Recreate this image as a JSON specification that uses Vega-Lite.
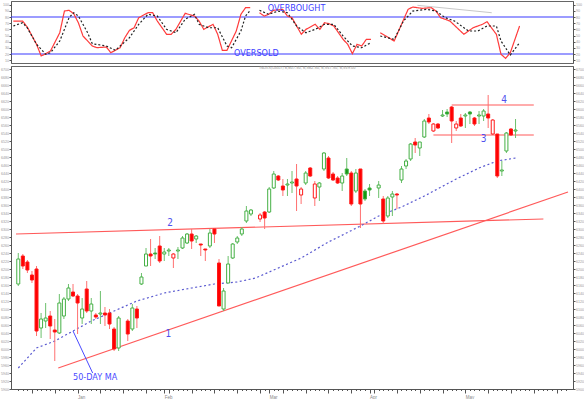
{
"$schema": "https://vega.github.io/schema/vega-lite/v6.json",
"padding": 0,
"background": "white",
"bounds": "flush",
"spacing": 3,
"config": {"view": {"stroke": "#666666", "strokeWidth": 1}, "axis": {"labelFont": "Liberation Sans", "labelFontSize": 3.6, "labelColor": "#999999", "tickColor": "#555555", "domainColor": "#555555", "grid": false, "title": null, "labelPadding": 0.5, "tickSize": 2}},
"datasets": {
"candles": [
{"d":0,"o":6162.5,"h":6240,"l":6157.5,"c":6225,"col":"up"},
{"d":1,"o":6232.5,"h":6237.5,"l":6200,"c":6207.5,"col":"down"},
{"d":2,"o":6217.5,"h":6222.5,"l":6190,"c":6197.5,"col":"down"},
{"d":3,"o":6185,"h":6195,"l":6165,"c":6172.5,"col":"down"},
{"d":4,"o":6200,"h":6207.5,"l":6032.5,"c":6045,"col":"down"},
{"d":5,"o":6052.5,"h":6090,"l":6027.5,"c":6075,"col":"up"},
{"d":6,"o":6070,"h":6115,"l":6052.5,"c":6077.5,"col":"up"},
{"d":7,"o":6082.5,"h":6095,"l":6025,"c":6057.5,"col":"down"},
{"d":8,"o":6047.5,"h":6075,"l":5970,"c":6042.5,"col":"down"},
{"d":9,"o":6040,"h":6137.5,"l":6037.5,"c":6115,"col":"up"},
{"d":10,"o":6082.5,"h":6130,"l":6075,"c":6125,"col":"up"},
{"d":11,"o":6125,"h":6162.5,"l":6120,"c":6152.5,"col":"up"},
{"d":12,"o":6142.5,"h":6162.5,"l":6130,"c":6132.5,"col":"down"},
{"d":13,"o":6132.5,"h":6137.5,"l":6037.5,"c":6115,"col":"down"},
{"d":14,"o":6077.5,"h":6127.5,"l":6062.5,"c":6100,"col":"up"},
{"d":15,"o":6150,"h":6170,"l":6090,"c":6095,"col":"down"},
{"d":16,"o":6095,"h":6127.5,"l":6062.5,"c":6112.5,"col":"up"},
{"d":17,"o":6085,"h":6090,"l":6075,"c":6080,"col":"down"},
{"d":18,"o":6087.5,"h":6145,"l":6062.5,"c":6090,"col":"up"},
{"d":19,"o":6090,"h":6105,"l":6057.5,"c":6085,"col":"down"},
{"d":20,"o":6090,"h":6100,"l":6050,"c":6062.5,"col":"down"},
{"d":21,"o":6050,"h":6055,"l":5995,"c":6000,"col":"down"},
{"d":22,"o":6002.5,"h":6082.5,"l":5995,"c":6077.5,"col":"up"},
{"d":24,"o":6070,"h":6075,"l":6020,"c":6037.5,"col":"down"},
{"d":25,"o":6050,"h":6112.5,"l":6045,"c":6102.5,"col":"up"},
{"d":26,"o":6100,"h":6107.5,"l":6052.5,"c":6077.5,"col":"down"},
{"d":27,"o":6162.5,"h":6190,"l":6160,"c":6180,"col":"up"},
{"d":28,"o":6207.5,"h":6252.5,"l":6207.5,"c":6237.5,"col":"up"},
{"d":29,"o":6237.5,"h":6275,"l":6207.5,"c":6232.5,"col":"down"},
{"d":30,"o":6240,"h":6252.5,"l":6225,"c":6237.5,"col":"up"},
{"d":31,"o":6257.5,"h":6282.5,"l":6215,"c":6220,"col":"down"},
{"d":32,"o":6237.5,"h":6252.5,"l":6220,"c":6242.5,"col":"up"},
{"d":33,"o":6245,"h":6252.5,"l":6232.5,"c":6247.5,"col":"up"},
{"d":34,"o":6227.5,"h":6240,"l":6202.5,"c":6237.5,"col":"down"},
{"d":35,"o":6245,"h":6255,"l":6225,"c":6247.5,"col":"up"},
{"d":36,"o":6252.5,"h":6282.5,"l":6250,"c":6277.5,"col":"up"},
{"d":37,"o":6265,"h":6290,"l":6262.5,"c":6287.5,"col":"up"},
{"d":38,"o":6287.5,"h":6300,"l":6250,"c":6270,"col":"down"},
{"d":39,"o":6275,"h":6285,"l":6265,"c":6282.5,"col":"up"},
{"d":40,"o":6262.5,"h":6262.5,"l":6232.5,"c":6260,"col":"down"},
{"d":41,"o":6250,"h":6250,"l":6220,"c":6247.5,"col":"down"},
{"d":42,"o":6257.5,"h":6300,"l":6252.5,"c":6290,"col":"up"},
{"d":43,"o":6300,"h":6302.5,"l":6265,"c":6287.5,"col":"down"},
{"d":44,"o":6215,"h":6225,"l":6107.5,"c":6107.5,"col":"down"},
{"d":45,"o":6100,"h":6152.5,"l":6095,"c":6145,"col":"up"},
{"d":46,"o":6165,"h":6232.5,"l":6165,"c":6212.5,"col":"up"},
{"d":47,"o":6227.5,"h":6265,"l":6225,"c":6262.5,"col":"up"},
{"d":48,"o":6267.5,"h":6282.5,"l":6262.5,"c":6277.5,"col":"up"},
{"d":49,"o":6287.5,"h":6305,"l":6282.5,"c":6300,"col":"up"},
{"d":50,"o":6320,"h":6357.5,"l":6315,"c":6345,"col":"up"},
{"d":51,"o":6337.5,"h":6350,"l":6332.5,"c":6347.5,"col":"up"},
{"d":53,"o":6325,"h":6340,"l":6317.5,"c":6335,"col":"down"},
{"d":54,"o":6342.5,"h":6345,"l":6300,"c":6327.5,"col":"down"},
{"d":55,"o":6342.5,"h":6405,"l":6340,"c":6400,"col":"up"},
{"d":56,"o":6402.5,"h":6445,"l":6400,"c":6437.5,"col":"up"},
{"d":57,"o":6432.5,"h":6435,"l":6420,"c":6422.5,"col":"down"},
{"d":58,"o":6407.5,"h":6425,"l":6382.5,"c":6397.5,"col":"down"},
{"d":59,"o":6410,"h":6425,"l":6382.5,"c":6412.5,"col":"up"},
{"d":60,"o":6415,"h":6445,"l":6390,"c":6417.5,"col":"up"},
{"d":61,"o":6425,"h":6462.5,"l":6345,"c":6407.5,"col":"down"},
{"d":62,"o":6385,"h":6405,"l":6362.5,"c":6400,"col":"down"},
{"d":63,"o":6415,"h":6445,"l":6410,"c":6440,"col":"up"},
{"d":64,"o":6452.5,"h":6455,"l":6430,"c":6432.5,"col":"down"},
{"d":65,"o":6377.5,"h":6420,"l":6357.5,"c":6412.5,"col":"down"},
{"d":66,"o":6405,"h":6417.5,"l":6370,"c":6415,"col":"up"},
{"d":67,"o":6450,"h":6492.5,"l":6445,"c":6490,"col":"up"},
{"d":68,"o":6477.5,"h":6482.5,"l":6425,"c":6427.5,"col":"down"},
{"d":69,"o":6437.5,"h":6442.5,"l":6420,"c":6422.5,"col":"down"},
{"d":70,"o":6427.5,"h":6432.5,"l":6412.5,"c":6415,"col":"down"},
{"d":71,"o":6415,"h":6440,"l":6395,"c":6432.5,"col":"up"},
{"d":72,"o":6450,"h":6477.5,"l":6432.5,"c":6437.5,"col":"up"},
{"d":73,"o":6440,"h":6445,"l":6357.5,"c":6362.5,"col":"down"},
{"d":74,"o":6395,"h":6450,"l":6390,"c":6440,"col":"up"},
{"d":75,"o":6450,"h":6450,"l":6302.5,"c":6362.5,"col":"down"},
{"d":76,"o":6395,"h":6400,"l":6370,"c":6375,"col":"up"},
{"d":77,"o":6402.5,"h":6412.5,"l":6382.5,"c":6397.5,"col":"up"},
{"d":79,"o":6402.5,"h":6420,"l":6377.5,"c":6410,"col":"up"},
{"d":80,"o":6375,"h":6382.5,"l":6312.5,"c":6320,"col":"down"},
{"d":81,"o":6332.5,"h":6382.5,"l":6327.5,"c":6377.5,"col":"up"},
{"d":82,"o":6380,"h":6395,"l":6332.5,"c":6387.5,"col":"up"},
{"d":83,"o":6387.5,"h":6390,"l":6350,"c":6385,"col":"down"},
{"d":84,"o":6422.5,"h":6457.5,"l":6415,"c":6450,"col":"up"},
{"d":85,"o":6457.5,"h":6475,"l":6450,"c":6470,"col":"up"},
{"d":86,"o":6475,"h":6515,"l":6470,"c":6512.5,"col":"up"},
{"d":87,"o":6517.5,"h":6527.5,"l":6490,"c":6510,"col":"down"},
{"d":88,"o":6502.5,"h":6517.5,"l":6482.5,"c":6517.5,"col":"up"},
{"d":89,"o":6530,"h":6575,"l":6527.5,"c":6570,"col":"up"},
{"d":90,"o":6577.5,"h":6587.5,"l":6562.5,"c":6567.5,"col":"down"},
{"d":91,"o":6545,"h":6565,"l":6542.5,"c":6562.5,"col":"down"},
{"d":92,"o":6562.5,"h":6565,"l":6550,"c":6552.5,"col":"down"},
{"d":93,"o":6582.5,"h":6597.5,"l":6580,"c":6585,"col":"up"},
{"d":94,"o":6592.5,"h":6600,"l":6580,"c":6587.5,"col":"up"},
{"d":95,"o":6605,"h":6607.5,"l":6515,"c":6570,"col":"down"},
{"d":96,"o":6552.5,"h":6570,"l":6545,"c":6562.5,"col":"down"},
{"d":97,"o":6577.5,"h":6587.5,"l":6555,"c":6557.5,"col":"down"},
{"d":98,"o":6582.5,"h":6590,"l":6552.5,"c":6585,"col":"up"},
{"d":99,"o":6592.5,"h":6595,"l":6562.5,"c":6587.5,"col":"up"},
{"d":100,"o":6577.5,"h":6580,"l":6557.5,"c":6562.5,"col":"down"},
{"d":101,"o":6582.5,"h":6595,"l":6562.5,"c":6585,"col":"up"},
{"d":102,"o":6582.5,"h":6600,"l":6570,"c":6595,"col":"up"},
{"d":103,"o":6587.5,"h":6635,"l":6552.5,"c":6577.5,"col":"down"},
{"d":104,"o":6537.5,"h":6575,"l":6535,"c":6572.5,"col":"down"},
{"d":105,"o":6537.5,"h":6537.5,"l":6427.5,"c":6432.5,"col":"down"},
{"d":106,"o":6445,"h":6470,"l":6432.5,"c":6447.5,"col":"up"},
{"d":107,"o":6495,"h":6542.5,"l":6490,"c":6540,"col":"up"},
{"d":108,"o":6550,"h":6552.5,"l":6532.5,"c":6535,"col":"down"},
{"d":109,"o":6545,"h":6575,"l":6527.5,"c":6547.5,"col":"up"}
],
"ma": [
{"d":0,"ma":5952.5},{"d":4,"ma":6002.5},{"d":8,"ma":6020},{"d":12,"ma":6045},{"d":16,"ma":6070},{"d":20,"ma":6090},{"d":26,"ma":6120},{"d":32,"ma":6140},{"d":38,"ma":6152.5},{"d":43,"ma":6162.5},{"d":48,"ma":6167.5},{"d":52,"ma":6177.5},{"d":59,"ma":6212.5},{"d":62,"ma":6227.5},{"d":68,"ma":6267.5},{"d":75,"ma":6307.5},{"d":79,"ma":6332.5},{"d":84,"ma":6355},{"d":89,"ma":6382.5},{"d":96,"ma":6425},{"d":101,"ma":6452.5},{"d":105,"ma":6470},{"d":109,"ma":6477.5}
],
"stoch": [
{"s":"K","seg":1,"d":0,"v":73.5},{"s":"K","seg":1,"d":2,"v":73.5},{"s":"K","seg":1,"d":3,"v":63.8},{"s":"K","seg":1,"d":5,"v":35.7},{"s":"K","seg":1,"d":6,"v":16.8},{"s":"K","seg":1,"d":7,"v":20.5},{"s":"K","seg":1,"d":8,"v":24.9},{"s":"K","seg":1,"d":10,"v":54.5},{"s":"K","seg":1,"d":11,"v":89.7},{"s":"K","seg":1,"d":12,"v":90.9},{"s":"K","seg":1,"d":13,"v":85.4},{"s":"K","seg":1,"d":14,"v":70.8},{"s":"K","seg":1,"d":15,"v":49.2},{"s":"K","seg":1,"d":17,"v":33},{"s":"K","seg":1,"d":18,"v":30.2},{"s":"K","seg":1,"d":20,"v":31.4},{"s":"K","seg":1,"d":21,"v":22.1},{"s":"K","seg":1,"d":23,"v":30.2},{"s":"K","seg":1,"d":24,"v":46.4},{"s":"K","seg":1,"d":25,"v":58.4},{"s":"K","seg":1,"d":26,"v":62.6},{"s":"K","seg":1,"d":27,"v":78.9},{"s":"K","seg":1,"d":29,"v":87},{"s":"K","seg":1,"d":30,"v":87},{"s":"K","seg":1,"d":31,"v":73.5},{"s":"K","seg":1,"d":33,"v":52},{"s":"K","seg":1,"d":34,"v":52},{"s":"K","seg":1,"d":35,"v":60},{"s":"K","seg":1,"d":37,"v":86},{"s":"K","seg":1,"d":39,"v":81.6},{"s":"K","seg":1,"d":40,"v":73.5},{"s":"K","seg":1,"d":41,"v":60},{"s":"K","seg":1,"d":43,"v":68.2},{"s":"K","seg":1,"d":44,"v":52},{"s":"K","seg":1,"d":45,"v":26},{"s":"K","seg":1,"d":46,"v":26},{"s":"K","seg":1,"d":48,"v":57.3},{"s":"K","seg":1,"d":49,"v":84.4},{"s":"K","seg":1,"d":50,"v":95.1},{"s":"K","seg":1,"d":51,"v":95.1},
{"s":"K","seg":2,"d":53,"v":87},{"s":"K","seg":2,"d":54,"v":81.6},{"s":"K","seg":2,"d":55,"v":84.4},{"s":"K","seg":2,"d":56,"v":90.9},{"s":"K","seg":2,"d":58,"v":92.5},{"s":"K","seg":2,"d":59,"v":81.6},{"s":"K","seg":2,"d":60,"v":78.9},{"s":"K","seg":2,"d":62,"v":52},{"s":"K","seg":2,"d":63,"v":60},{"s":"K","seg":2,"d":65,"v":68.2},{"s":"K","seg":2,"d":66,"v":60},{"s":"K","seg":2,"d":67,"v":70.8},{"s":"K","seg":2,"d":68,"v":69.1},{"s":"K","seg":2,"d":69,"v":65.4},{"s":"K","seg":2,"d":71,"v":43.8},{"s":"K","seg":2,"d":72,"v":35.7},{"s":"K","seg":2,"d":73,"v":20.5},{"s":"K","seg":2,"d":74,"v":35.7},{"s":"K","seg":2,"d":75,"v":33},{"s":"K","seg":2,"d":76,"v":43.8},{"s":"K","seg":2,"d":77,"v":43.8},
{"s":"K","seg":3,"d":79,"v":54.5},{"s":"K","seg":3,"d":82,"v":41.1},{"s":"K","seg":3,"d":85,"v":92.5},{"s":"K","seg":3,"d":86,"v":96.2},{"s":"K","seg":3,"d":88,"v":94.1},{"s":"K","seg":3,"d":90,"v":95.1},{"s":"K","seg":3,"d":91,"v":89.7},{"s":"K","seg":3,"d":92,"v":78.9},{"s":"K","seg":3,"d":94,"v":73.5},{"s":"K","seg":3,"d":97,"v":52},{"s":"K","seg":3,"d":99,"v":62.6},{"s":"K","seg":3,"d":101,"v":68.2},{"s":"K","seg":3,"d":102,"v":72.4},{"s":"K","seg":3,"d":103,"v":62},{"s":"K","seg":3,"d":104,"v":52},{"s":"K","seg":3,"d":105,"v":19.5},{"s":"K","seg":3,"d":106,"v":13},{"s":"K","seg":3,"d":107,"v":22.1},{"s":"K","seg":3,"d":109,"v":65.4},
{"s":"D","seg":1,"d":0,"v":65.4},{"s":"D","seg":1,"d":2,"v":70.8},{"s":"D","seg":1,"d":3,"v":62.6},{"s":"D","seg":1,"d":5,"v":35.7},{"s":"D","seg":1,"d":7,"v":19.5},{"s":"D","seg":1,"d":8,"v":22.1},{"s":"D","seg":1,"d":10,"v":41.1},{"s":"D","seg":1,"d":12,"v":78.9},{"s":"D","seg":1,"d":13,"v":87},{"s":"D","seg":1,"d":14,"v":81.6},{"s":"D","seg":1,"d":16,"v":54.5},{"s":"D","seg":1,"d":17,"v":36.7},{"s":"D","seg":1,"d":20,"v":33},{"s":"D","seg":1,"d":22,"v":26},{"s":"D","seg":1,"d":23,"v":33},{"s":"D","seg":1,"d":25,"v":46.4},{"s":"D","seg":1,"d":27,"v":68.2},{"s":"D","seg":1,"d":29,"v":84.4},{"s":"D","seg":1,"d":31,"v":81.6},{"s":"D","seg":1,"d":33,"v":60},{"s":"D","seg":1,"d":35,"v":54.5},{"s":"D","seg":1,"d":37,"v":76.3},{"s":"D","seg":1,"d":39,"v":84.4},{"s":"D","seg":1,"d":40,"v":68.2},{"s":"D","seg":1,"d":42,"v":62.6},{"s":"D","seg":1,"d":44,"v":62.6},{"s":"D","seg":1,"d":46,"v":33},{"s":"D","seg":1,"d":47,"v":30.2},{"s":"D","seg":1,"d":49,"v":57.3},{"s":"D","seg":1,"d":50,"v":81.6},{"s":"D","seg":1,"d":51,"v":90.9},
{"s":"D","seg":2,"d":53,"v":90.9},{"s":"D","seg":2,"d":55,"v":84.4},{"s":"D","seg":2,"d":57,"v":89.7},{"s":"D","seg":2,"d":59,"v":87},{"s":"D","seg":2,"d":61,"v":65.4},{"s":"D","seg":2,"d":63,"v":54.5},{"s":"D","seg":2,"d":65,"v":60},{"s":"D","seg":2,"d":67,"v":68.2},{"s":"D","seg":2,"d":69,"v":68.2},{"s":"D","seg":2,"d":71,"v":49.2},{"s":"D","seg":2,"d":73,"v":33},{"s":"D","seg":2,"d":75,"v":30.2},{"s":"D","seg":2,"d":77,"v":38.3},
{"s":"D","seg":3,"d":79,"v":49.2},{"s":"D","seg":3,"d":82,"v":43.8},{"s":"D","seg":3,"d":84,"v":73.5},{"s":"D","seg":3,"d":86,"v":89.7},{"s":"D","seg":3,"d":89,"v":92.5},{"s":"D","seg":3,"d":91,"v":89.7},{"s":"D","seg":3,"d":93,"v":78.9},{"s":"D","seg":3,"d":95,"v":73.5},{"s":"D","seg":3,"d":98,"v":57.3},{"s":"D","seg":3,"d":100,"v":57.3},{"s":"D","seg":3,"d":102,"v":65.4},{"s":"D","seg":3,"d":104,"v":65.4},{"s":"D","seg":3,"d":105,"v":41.1},{"s":"D","seg":3,"d":107,"v":18.4},{"s":"D","seg":3,"d":109,"v":38.3}
],
"trend": [
{"id":"1","d":8.76,"p":5952.5,"d2":120.5,"p2":6392.5},
{"id":"2","d":-0.5,"p":6287.5,"d2":115.1,"p2":6325},
{"id":"3","d":91,"p":6535,"d2":113,"p2":6535},
{"id":"4","d":95,"p":6610,"d2":113,"p2":6610}
],
"tlabels": [
{"d":32.9,"p":6037.5,"t":"1"},
{"d":33.3,"p":6314,"t":"2"},
{"d":102,"p":6525,"t":"3"},
{"d":106.5,"p":6622,"t":"4"}
]
},
"vconcat": [
{
"width": 562,
"height": 62,
"encoding": {"x": {"field": "d", "type": "quantitative", "scale": {"domain": [-0.5, 120.5], "nice": false, "zero": false}, "axis": null}},
"layer": [
{"data": {"values": [{"v": 80}, {"v": 20}]},
 "mark": {"type": "rule", "color": "#3b3bff", "strokeWidth": 1.2},
 "encoding": {"x": null, "y": {"field": "v", "type": "quantitative", "scale": {"domain": [5.4, 106], "nice": false, "zero": false}, "axis": {"orient": "left", "values": [10,20,30,40,50,60,70,80,90,100], "format": "d"}}}},
{"data": {"values": [{"d": 87, "v": 99}, {"d": 103, "v": 87}]},
 "mark": {"type": "line", "color": "#c8c8c8", "strokeWidth": 1},
 "encoding": {"y": {"field": "v", "type": "quantitative", "scale": {"domain": [5.4, 106], "nice": false, "zero": false}, "axis": {"orient": "right", "values": [10,20,30,40,50,60,70,80,90,100], "format": "d"}}}},
{"data": {"name": "stoch"},
 "mark": {"type": "line", "strokeWidth": 1.2},
 "encoding": {
  "y": {"field": "v", "type": "quantitative", "scale": {"domain": [5.4, 106], "nice": false, "zero": false}, "axis": null},
  "color": {"field": "s", "type": "nominal", "scale": {"domain": ["K", "D"], "range": ["#ff3b3b", "#222222"]}, "legend": null},
  "strokeDash": {"field": "s", "type": "nominal", "scale": {"domain": ["K", "D"], "range": [[1, 0], [2, 2]]}, "legend": null},
  "detail": {"field": "seg", "type": "nominal"},
  "order": {"field": "d", "type": "quantitative"}}},
{"data": {"values": [{"d": 54.8, "v": 95.4, "t": "OVERBOUGHT"}, {"d": 47.5, "v": 22.4, "t": "OVERSOLD"}]},
 "mark": {"type": "text", "align": "left", "baseline": "middle", "color": "#4040ff", "font": "Liberation Sans Narrow, DejaVu Sans Condensed, Liberation Sans", "fontSize": 9},
 "encoding": {"y": {"field": "v", "type": "quantitative", "scale": {"domain": [5.4, 106], "nice": false, "zero": false}, "axis": null}, "text": {"field": "t"}}}
],
"resolve": {"axis": {"y": "independent"}}
},
{
"width": 562,
"height": 323,
"encoding": {"x": {"field": "d", "type": "quantitative", "scale": {"domain": [-0.5, 120.5], "nice": false, "zero": false},
  "axis": {"orient": "bottom", "values": [0,1,2,3,4,5,6,7,8,9,10,11,12,13,14,15,16,17,18,19,20,21,22,23,24,25,26,27,28,29,30,31,32,33,34,35,36,37,38,39,40,41,42,43,44,45,46,47,48,49,50,51,52,53,54,55,56,57,58,59,60,61,62,63,64,65,66,67,68,69,70,71,72,73,74,75,76,77,78,79,80,81,82,83,84,85,86,87,88,89,90,91,92,93,94,95,96,97,98,99,100,101,102,103,104,105,106,107,108,109,110,111,112,113,114,115,116,117,118,119,120],
   "labelExpr": "datum.value==13?'Jan':datum.value==32?'Feb':datum.value==55?'Mar':datum.value==77?'Apr':datum.value==98?'May':''",
   "labelOverlap": false, "labelAlign": "left", "labelFontSize": 4.5, "labelColor": "#888888", "labelPadding": 1,
   "tickSize": {"condition": {"test": "datum.value % 5 == 3 || indexof([13,32,55,77,98], datum.value) >= 0", "value": 4}, "value": 1.5}}}},
"layer": [
{"data": {"name": "trend"},
 "mark": {"type": "rule", "color": "#ff5a5a", "strokeWidth": 1.2},
 "encoding": {"x2": {"field": "d2"}, "y": {"field": "p", "type": "quantitative", "scale": {"domain": [5900, 6707.5], "nice": false, "zero": false}, "axis": null}, "y2": {"field": "p2"}}},
{"data": {"name": "ma"},
 "mark": {"type": "line", "color": "#5a5ad0", "strokeWidth": 1.2, "strokeDash": [2, 2.5]},
 "encoding": {"y": {"field": "ma", "type": "quantitative", "scale": {"domain": [5900, 6707.5], "nice": false, "zero": false}, "axis": null}}},
{"data": {"values": [{"d": 12, "p": 6045, "d2": 16.3, "p2": 5940}]},
 "mark": {"type": "rule", "color": "#4a4aff", "strokeWidth": 1},
 "encoding": {"x2": {"field": "d2"}, "y": {"field": "p", "type": "quantitative", "scale": {"domain": [5900, 6707.5], "nice": false, "zero": false}, "axis": null}, "y2": {"field": "p2"}}},
{"data": {"name": "candles"},
 "mark": {"type": "rule", "strokeWidth": 1},
 "encoding": {
  "y": {"field": "l", "type": "quantitative", "scale": {"domain": [5900, 6707.5], "nice": false, "zero": false}, "axis": {"orient": "left", "values": [5900,5920,5940,5960,5980,6000,6020,6040,6060,6080,6100,6120,6140,6160,6180,6200,6220,6240,6260,6280,6300,6320,6340,6360,6380,6400,6420,6440,6460,6480,6500,6520,6540,6560,6580,6600,6620,6640,6660,6680,6700], "format": "d"}},
  "y2": {"field": "h"},
  "color": {"field": "col", "type": "nominal", "scale": {"domain": ["up", "down"], "range": ["#6cc06c", "#ff7070"]}, "legend": null}}},
{"data": {"name": "candles"},
 "mark": {"type": "bar", "size": 3, "strokeWidth": 1},
 "encoding": {
  "y": {"field": "o", "type": "quantitative", "scale": {"domain": [5900, 6707.5], "nice": false, "zero": false}, "axis": {"orient": "right", "values": [5900,5920,5940,5960,5980,6000,6020,6040,6060,6080,6100,6120,6140,6160,6180,6200,6220,6240,6260,6280,6300,6320,6340,6360,6380,6400,6420,6440,6460,6480,6500,6520,6540,6560,6580,6600,6620,6640,6660,6680,6700], "format": "d"}},
  "y2": {"field": "c"},
  "fill": {"condition": {"test": "datum.c > datum.o", "value": "#ffffff"}, "field": "col", "type": "nominal", "scale": {"domain": ["up", "down"], "range": ["#129912", "#ff0000"]}, "legend": null},
  "stroke": {"field": "col", "type": "nominal", "scale": {"domain": ["up", "down"], "range": ["#45b045", "#ff1a1a"]}, "legend": null}}},
{"data": {"name": "tlabels"},
 "mark": {"type": "text", "align": "center", "baseline": "middle", "color": "#5050ee", "font": "Liberation Sans Narrow, DejaVu Sans Condensed, Liberation Sans", "fontSize": 10},
 "encoding": {"y": {"field": "p", "type": "quantitative", "scale": {"domain": [5900, 6707.5], "nice": false, "zero": false}, "axis": null}, "text": {"field": "t"}}},
{"data": {"values": [{"d": 12, "p": 5930, "t": "50-DAY MA"}, {"d": 52.9, "p": 6702, "t": "INDEX(DAILY) 6,607.50, 6,562.50, 6,547.50, 6,549.00"}]},
 "mark": {"type": "text", "align": "left", "baseline": "middle", "font": "Liberation Sans Narrow, DejaVu Sans Condensed, Liberation Sans"},
 "encoding": {"y": {"field": "p", "type": "quantitative", "scale": {"domain": [5900, 6707.5], "nice": false, "zero": false}, "axis": null}, "text": {"field": "t"},
  "size": {"condition": {"test": "datum.t == '50-DAY MA'", "value": 9}, "value": 4},
  "color": {"condition": {"test": "datum.t == '50-DAY MA'", "value": "#4a4aff"}, "value": "#999999"}}}
],
"resolve": {"axis": {"y": "independent"}, "scale": {"color": "independent", "fill": "independent", "stroke": "independent"}}
}
]
}
